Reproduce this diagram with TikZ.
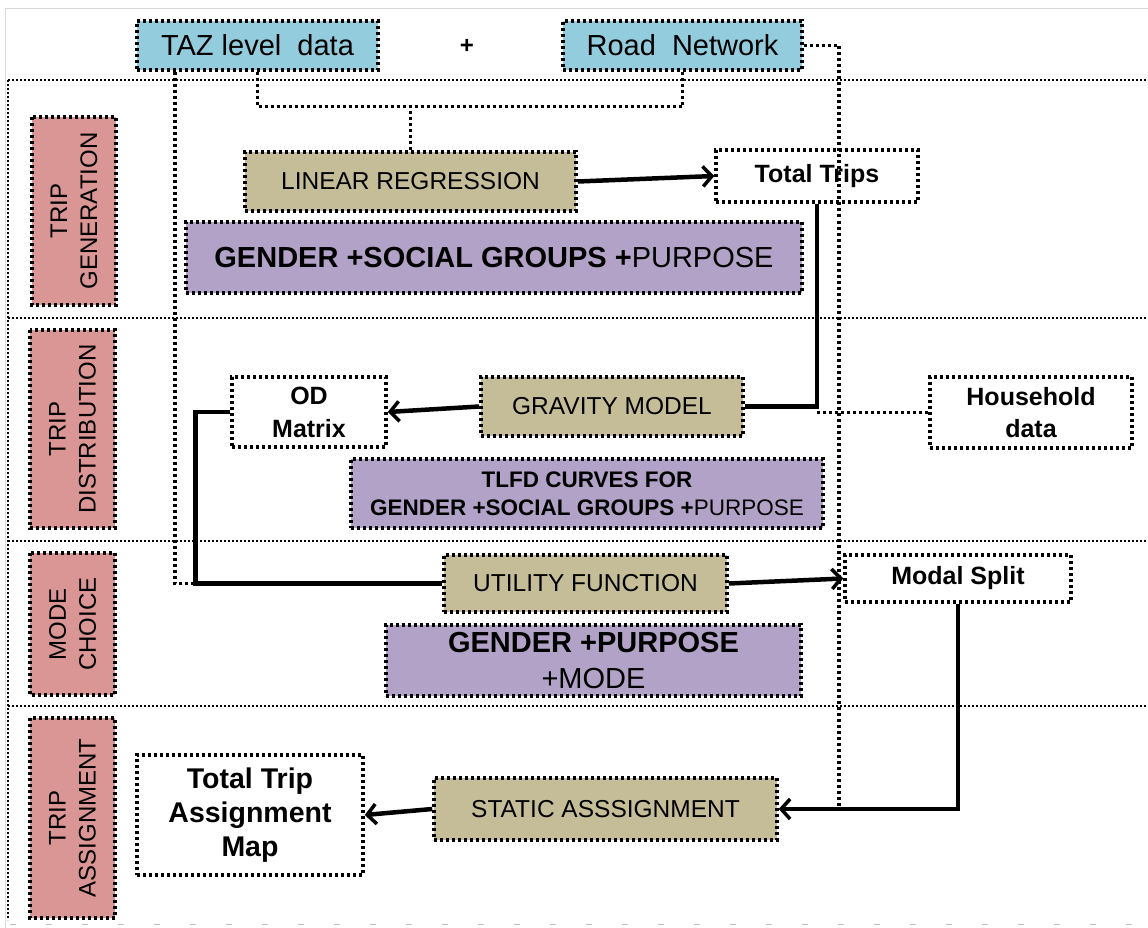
\documentclass[tikz,border=0pt]{standalone}
\usepackage{fontspec}
\setmainfont{Liberation Sans}
\usetikzlibrary{arrows.meta}
\definecolor{cyanbox}{HTML}{93CDDD}
\definecolor{tanbox}{HTML}{C4BD97}
\definecolor{purplebox}{HTML}{B3A2C7}
\definecolor{pinkbox}{HTML}{D99694}
\newcommand{\fs}[2]{\fontsize{#1}{#2}\selectfont}
\begin{document}
\begin{tikzpicture}[x=1pt,y=-1pt,
  box/.style={draw=black, line width=3.5pt, dash pattern=on 3pt off 3pt, inner sep=0pt, align=center, text=black},
  inbox/.style={box, fill=cyanbox, font=\fs{29}{32}},
  tanb/.style={box, fill=tanbox, font=\fs{24.5}{28}},
  purb/.style={box, fill=purplebox},
  pinkb/.style={box, fill=pinkbox, font=\fs{24}{30}},
  whiteb/.style={box, fill=white, font=\bfseries\fs{24}{32}},
  secline/.style={draw=black, line width=1.5pt, dash pattern=on 2pt off 2pt},
  dotconn/.style={draw=black, line width=3.5pt, dash pattern=on 3pt off 3pt},
  conn/.style={draw=black, line width=4.5pt},
  arr/.style={conn, -{Straight Barb[length=9pt,width=20pt,line width=3.5pt]}}
]
\useasboundingbox (0,0) rectangle (1148,928);
\fill[white] (0,0) rectangle (1148,928);
% outer frame (light)
\draw[black!15, line width=1pt] (5,1148) -- (5,9) -- (1148,9);
\draw[black!25, line width=1pt, dash pattern=on 6pt off 30pt] (10,924) -- (1148,924);
% section frame
\draw[secline] (8,80) -- (1148,80);
\draw[secline] (8,318) -- (1148,318);
\draw[secline] (8,541) -- (1148,541);
\draw[secline] (8,706) -- (1148,706);
\draw[secline] (8,80) -- (8,920);

% input nodes
\node[inbox, minimum width=241pt, minimum height=49pt] (taz) at (257.5,45.5) {TAZ level\ \ data};
\node[font=\bfseries\fs{24}{28}] (plus) at (467,46) {+};
\node[inbox, minimum width=239pt, minimum height=49pt] (road) at (682.5,45.5) {Road\ \ Network};

% section labels
\node[pinkb, minimum width=188pt, minimum height=84pt, rotate=90] (tg) at (74,211) {TRIP\\GENERATION};
\node[pinkb, minimum width=198pt, minimum height=85pt, rotate=90] (td) at (72.5,429) {TRIP\\DISTRIBUTION};
\node[pinkb, minimum width=142pt, minimum height=85pt, rotate=90] (mc) at (72.5,624) {MODE\\CHOICE};
\node[pinkb, minimum width=200pt, minimum height=85pt, rotate=90] (ta) at (72.5,818) {TRIP\\ASSIGNMENT};

% process nodes
\node[tanb, minimum width=331pt, minimum height=59pt] (linreg) at (410.5,181.5) {LINEAR REGRESSION};
\node[purb, minimum width=616pt, minimum height=71pt, font=\fs{29}{34}] (gsp) at (494,257.5) {\textbf{GENDER +SOCIAL GROUPS +}PURPOSE};
\node[whiteb, minimum width=202pt, minimum height=52pt, font=\bfseries\fs{25}{30}] (total) at (817,176) {Total Trips};
\node[tanb, minimum width=262pt, minimum height=59pt] (grav) at (612,406.5) {GRAVITY MODEL};
\node[whiteb, minimum width=154pt, minimum height=70pt, font=\bfseries\fs{25}{33}] (od) at (309,412) {OD\\Matrix};
\node[whiteb, minimum width=202pt, minimum height=71pt, font=\bfseries\fs{25}{32}] (house) at (1031,412.5) {Household\\data};
\node[purb, minimum width=472pt, minimum height=69pt, font=\fs{22.5}{28}] (tlfd) at (587,493.5) {\textbf{TLFD CURVES FOR}\\\textbf{GENDER +SOCIAL GROUPS +}PURPOSE};
\node[tanb, minimum width=283pt, minimum height=57pt] (util) at (585.5,583.5) {UTILITY FUNCTION};
\node[whiteb, minimum width=226pt, minimum height=47pt, font=\bfseries\fs{25}{30}] (modal) at (958,578.5) {Modal Split};
\node[purb, minimum width=415pt, minimum height=71pt, font=\fs{29}{36}] (gpm) at (593.5,660.5) {\textbf{GENDER +PURPOSE}\\+MODE};
\node[tanb, minimum width=343pt, minimum height=62pt] (static) at (605.5,809) {STATIC ASSSIGNMENT};
\node[whiteb, minimum width=226pt, minimum height=120pt, font=\bfseries\fs{28.5}{34}] (ttam) at (250,815) {Total Trip\\Assignment\\Map};

% dotted data feeds
\draw[dotconn] (taz.south) -- ++(0,35) -| (road.south);
\draw[dotconn] (linreg.north) -- ++(0,-47);
\draw[dotconn] ([xshift=-82.5pt]taz.south) |- ([xshift=-247pt]util.west);
\draw[dotconn] (road.east) -| ([xshift=60pt]static.east);
\draw[dotconn] (house.west) -- (house.west -| total.south);

% solid flow
\draw[arr] (linreg.east) -- (total.west);
\draw[conn] (total.south) |- (grav.east);
\draw[arr] (grav.west) -- (od.east);
\draw[conn] (od.west) -- ++(-35,0) |- (util.west);
\draw[arr] (util.east) -- (modal.west);
\draw[arr] (modal.south) |- (static.east);
\draw[arr] (static.west) -- (ttam.east);
\end{tikzpicture}
\end{document}
